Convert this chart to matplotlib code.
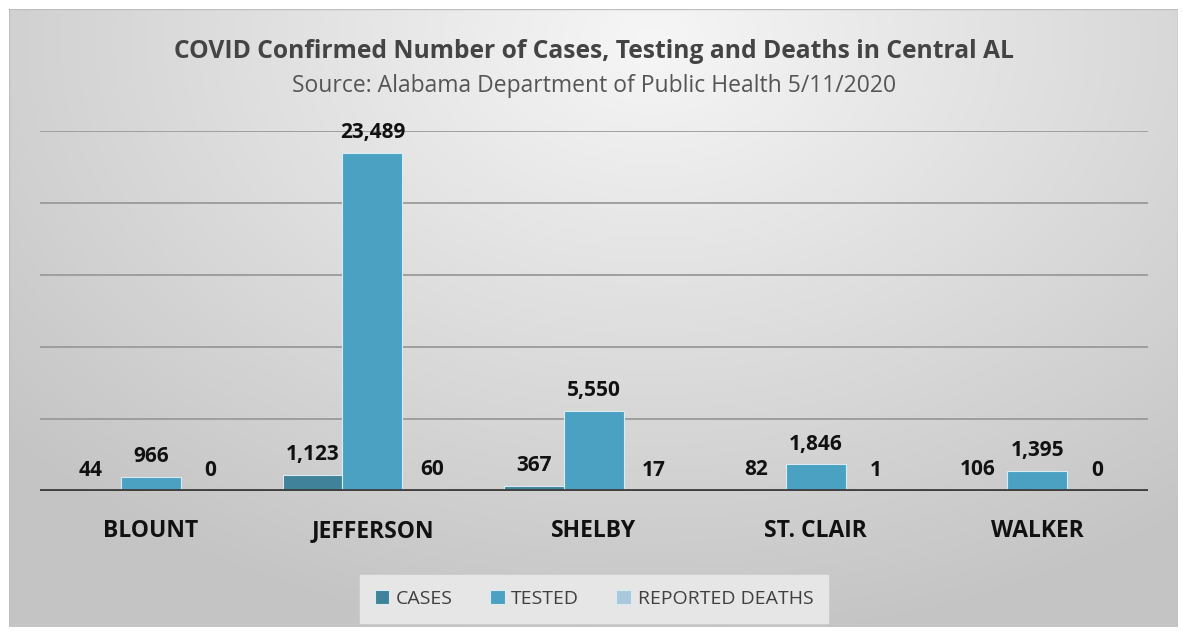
import matplotlib
matplotlib.use("Agg")
import matplotlib.pyplot as plt
import numpy as np
from matplotlib.patches import Rectangle

counties = ["BLOUNT", "JEFFERSON", "SHELBY", "ST. CLAIR", "WALKER"]
cases = [44, 1123, 367, 82, 106]
tested = [966, 23489, 5550, 1846, 1395]
deaths = [0, 60, 17, 1, 0]
series_names = ["CASES", "TESTED", "REPORTED DEATHS"]
series_colors = ["#3f8299", "#4ba1c2", "#a9c8dc"]
y_ticks = [0, 5000, 10000, 15000, 20000, 25000]

plt.rcParams["font.family"] = ["Open Sans", "DejaVu Sans"]

W, H = 1183, 631
fig = plt.figure(figsize=(W / 100, H / 100), dpi=100)
fig.patch.set_facecolor("white")

# background panel with radial gradient
bx0, by0, bx1, by1 = 9, 9, 1178, 627
bg = fig.add_axes([bx0 / W, 1 - by1 / H, (bx1 - bx0) / W, (by1 - by0) / H])
ny, nx = 300, 600
yy, xx = np.mgrid[0:1:ny * 1j, 0:1:nx * 1j]
r = np.sqrt(((xx - 0.55) * 1.2) ** 2 + ((yy - 0.05) * 0.9) ** 2)
val = np.clip(0.965 - 0.22 * r, 0.77, 0.97)
img = np.dstack([val, val, val])
bg.imshow(img, extent=[0, 1, 0, 1], origin="upper", aspect="auto", interpolation="bilinear")
bg.set_xlim(0, 1)
bg.set_ylim(0, 1)
bg.axis("off")
bg.add_patch(Rectangle((0, 0), 1, 1, fill=False, edgecolor="#bfbfbf", lw=1, transform=bg.transAxes))

# main axes
ax_l, ax_r, ax_b, ax_t = 40, 1148, 491, 131
ax = fig.add_axes([ax_l / W, 1 - ax_b / H, (ax_r - ax_l) / W, (ax_b - ax_t) / H])
ax.patch.set_alpha(0)
ax.set_xlim(-0.5, len(counties) - 0.5)
ax.set_ylim(0, 25000)

for yv in y_ticks[1:]:
    ax.axhline(yv, color="#9a9a9a", lw=1.3, zorder=1)
ax.axhline(0, color="#404040", lw=3.5, zorder=4)

x = np.arange(len(counties))
bw = 0.27
for i, (vals, col) in enumerate(zip([cases, tested, deaths], series_colors)):
    pos = x + (i - 1) * bw
    ax.bar(pos, vals, width=bw, color=col, edgecolor="#d8eaf2", linewidth=0.8,
           zorder=3, label=series_names[i])
    for p, v in zip(pos, vals):
        ax.annotate(f"{v:,}", (p, v), xytext=(0, 7), textcoords="offset points",
                    ha="center", va="bottom", fontsize=15, fontweight="bold",
                    color="#111111", zorder=5)

ax.set_xticks(x)
ax.set_xticklabels(counties, fontsize=16.5, fontweight="bold", color="#111111")
ax.tick_params(axis="x", length=0, pad=20)
ax.set_yticks([])
for s in ax.spines.values():
    s.set_visible(False)

fig.text(0.502, 1 - 52 / H, "COVID Confirmed Number of Cases, Testing and Deaths in Central AL",
         ha="center", va="center", fontsize=17.7, fontweight="bold", color="#444444")
fig.text(0.502, 1 - 86 / H, "Source: Alabama Department of Public Health 5/11/2020",
         ha="center", va="center", fontsize=16.5, color="#555555")

handles, labels = ax.get_legend_handles_labels()
leg = fig.legend(handles, labels, loc="center", bbox_to_anchor=(594 / W, 1 - 599 / H),
                 ncol=3, frameon=True, fontsize=14, handlelength=0.75, handleheight=0.75,
                 handletextpad=0.35, columnspacing=1.9, borderpad=0.75, fancybox=False,
                 borderaxespad=0, labelcolor="#404040")
leg.get_frame().set_facecolor("#e6e6e6")
leg.get_frame().set_edgecolor("#e6e6e6")
leg.get_frame().set_alpha(1)

fig.savefig("out.png", dpi=100, facecolor="white")
